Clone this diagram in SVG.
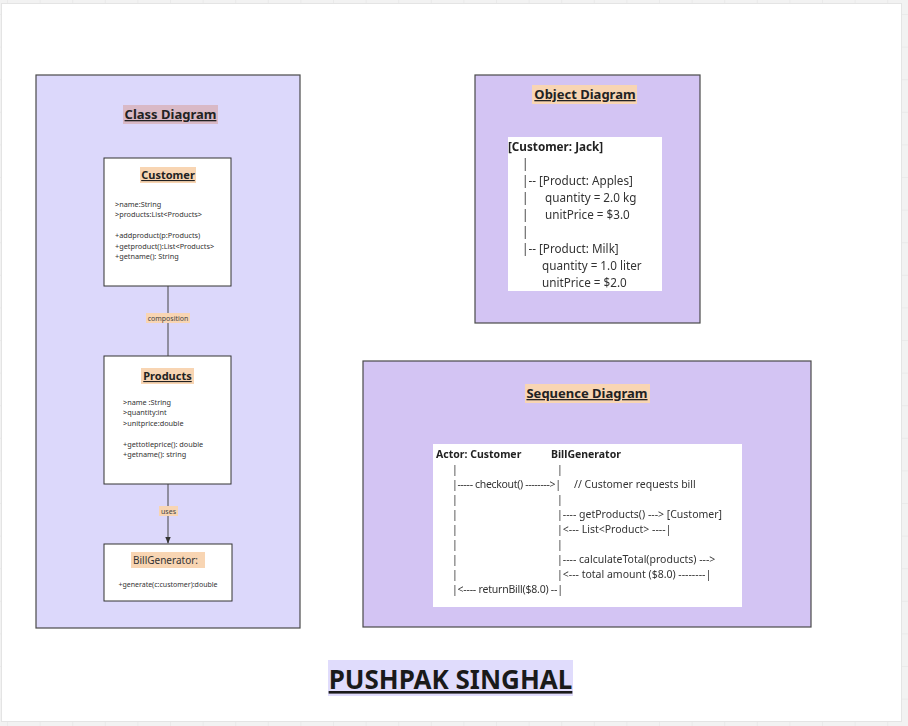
<svg xmlns="http://www.w3.org/2000/svg" width="908" height="726" viewBox="0 0 908 726">
<defs>
<pattern id="grid" x="7" y="14" width="32.6" height="32.6" patternUnits="userSpaceOnUse">
<path d="M0 0V32.6M0 0H32.6" stroke="#e2e2e2" stroke-width="1" fill="none"/>
</pattern>
<marker id="arr" viewBox="0 0 10 10" refX="9" refY="5" markerWidth="7" markerHeight="7" orient="auto">
<path d="M0 1L10 5L0 9z" fill="#333"/>
</marker>
<filter id="flat" x="0" y="0" width="1" height="1"><feOffset dx="0" dy="0"/></filter>
<style>
text{font-family:"Noto Sans","Open Sans","DejaVu Sans",sans-serif;fill:#333}
.frame{fill:#dcd8fb;stroke:#4a4a4a;stroke-width:1.2}
.frame2{fill:#d3c4f3;stroke:#4a4a4a;stroke-width:1.2}
.box{fill:#fff;stroke:#333;stroke-width:1}
.ttl{font-size:13px;font-weight:bold;text-decoration:underline;text-anchor:middle;fill:#222}
.cls{font-size:11px;font-weight:bold;text-decoration:underline;text-anchor:middle;fill:#222}
.peach{fill:#f8d5b3}
.attr{font-size:7.3px;fill:#333}
.lbl{font-size:7px;text-anchor:middle;fill:#444}
.obj{font-size:11.7px;fill:#333}
.seq{font-size:10.5px;fill:#333}
.conn{stroke:#444;stroke-width:1;fill:none}
.gray{filter:url(#flat)}
</style>
</defs>
<rect width="908" height="726" fill="#f2f2f2"/>
<rect width="908" height="726" fill="url(#grid)"/>
<rect x="1.5" y="3.5" width="900" height="718" fill="#fff" stroke="#e4e4e4"/>

<g id="class-diagram">
<rect class="frame" x="36" y="75" width="264" height="553"/>
<rect x="123" y="105" width="95" height="19" fill="#d9b9c6"/>
<text class="ttl" x="170.5" y="119">Class Diagram</text>
</g>

<g id="customer">
<rect class="box" x="104" y="158" width="127" height="128"/>
<rect class="peach" x="140" y="167" width="56" height="16"/>
<text class="cls" x="168" y="179">Customer</text>
<text class="attr" x="115" y="206.5">&gt;name:String</text>
<text class="attr" x="115" y="216.5">&gt;products:List&lt;Products&gt;</text>
<text class="attr" x="115" y="237.5">+addproduct(p:Products)</text>
<text class="attr" x="115" y="248.5">+getproduct():List&lt;Products&gt;</text>
<text class="attr" x="115" y="258.5">+getname(): String</text>
</g>

<g id="products">
<rect class="box" x="104" y="356" width="127" height="128"/>
<rect class="peach" x="141" y="368" width="53" height="16"/>
<text class="cls" x="167.5" y="380">Products</text>
<text class="attr" x="123" y="404.5">&gt;name :String</text>
<text class="attr" x="123" y="414.5">&gt;quantity:int</text>
<text class="attr" x="123" y="425.5">&gt;unitprice:double</text>
<text class="attr" x="123" y="446.5">+gettotleprice(): double</text>
<text class="attr" x="123" y="456.5">+getname(): string</text>
</g>

<g id="billgenerator">
<rect class="box" x="104" y="544" width="128" height="57"/>
<rect class="peach" x="131" y="552" width="74" height="16"/>
<text x="133" y="564" style="font-size:10px;fill:#333">BillGenerator:</text>
<text class="lbl" x="168" y="587" style="fill:#333">+generate(c:customer):double</text>
</g>

<g id="connectors">
<line class="conn" x1="168" y1="286" x2="168" y2="356"/>
<rect class="peach" x="146" y="313" width="44" height="10"/>
<text class="lbl" x="168" y="321">composition</text>
<line class="conn" x1="168" y1="484" x2="168" y2="543" marker-end="url(#arr)"/>
<rect class="peach" x="159" y="506" width="19" height="10"/>
<text class="lbl" x="168.5" y="514">uses</text>
</g>

<g id="object-diagram">
<rect class="frame2" x="475" y="75" width="225" height="248"/>
<rect class="peach" x="532" y="85" width="105" height="19"/>
<text class="ttl" x="585" y="99">Object Diagram</text>
<g class="gray">
<rect x="508" y="137" width="154" height="154" fill="#fff"/>
<text class="obj" x="508" y="151" style="font-weight:bold;fill:#222">[Customer: Jack]</text>
<text class="obj" x="522" y="168">|</text>
<text class="obj" x="522" y="185">|-- [Product: Apples]</text>
<text class="obj" y="202"><tspan x="522">|</tspan><tspan x="545">quantity = 2.0 kg</tspan></text>
<text class="obj" y="219"><tspan x="522">|</tspan><tspan x="545">unitPrice = $3.0</tspan></text>
<text class="obj" x="522" y="236">|</text>
<text class="obj" x="522" y="253">|-- [Product: Milk]</text>
<text class="obj" x="542" y="270">quantity = 1.0 liter</text>
<text class="obj" x="542" y="287">unitPrice = $2.0</text>
</g>
</g>

<g id="sequence-diagram">
<rect class="frame2" x="363" y="361" width="448" height="266"/>
<rect class="peach" x="525" y="384" width="125" height="19"/>
<text class="ttl" x="587" y="398">Sequence Diagram</text>
<g class="gray">
<rect x="433" y="444" width="309" height="163" fill="#fff"/>
<text class="seq" y="458" style="font-weight:bold;fill:#222"><tspan x="436">Actor: Customer</tspan><tspan x="551">BillGenerator</tspan></text>
<text class="seq" y="473"><tspan x="452">|</tspan><tspan x="557">|</tspan></text>
<text class="seq" y="488"><tspan x="452" textLength="109" lengthAdjust="spacing">|----- checkout() --------&gt;|</tspan><tspan x="574">// Customer requests bill</tspan></text>
<text class="seq" y="503"><tspan x="452">|</tspan><tspan x="557">|</tspan></text>
<text class="seq" y="518"><tspan x="452">|</tspan><tspan x="557">|---- getProducts() ---&gt; [Customer]</tspan></text>
<text class="seq" y="533"><tspan x="452">|</tspan><tspan x="557">|&lt;--- List&lt;Product&gt; ----|</tspan></text>
<text class="seq" y="548"><tspan x="452">|</tspan><tspan x="557">|</tspan></text>
<text class="seq" y="563"><tspan x="452">|</tspan><tspan x="557">|---- calculateTotal(products) ---&gt;</tspan></text>
<text class="seq" y="578"><tspan x="452">|</tspan><tspan x="557">|&lt;--- total amount ($8.0) --------|</tspan></text>
<text class="seq" x="452" y="593" textLength="111" lengthAdjust="spacing">|&lt;---- returnBill($8.0) --|</text>
</g>
</g>

<g id="author">
<rect x="328" y="660" width="245" height="36" fill="#e0dcfc"/>
<text x="450.5" y="689" style="font-size:26px;font-weight:bold;text-decoration:underline;text-anchor:middle;fill:#1a1a1a">PUSHPAK SINGHAL</text>
</g>
</svg>
